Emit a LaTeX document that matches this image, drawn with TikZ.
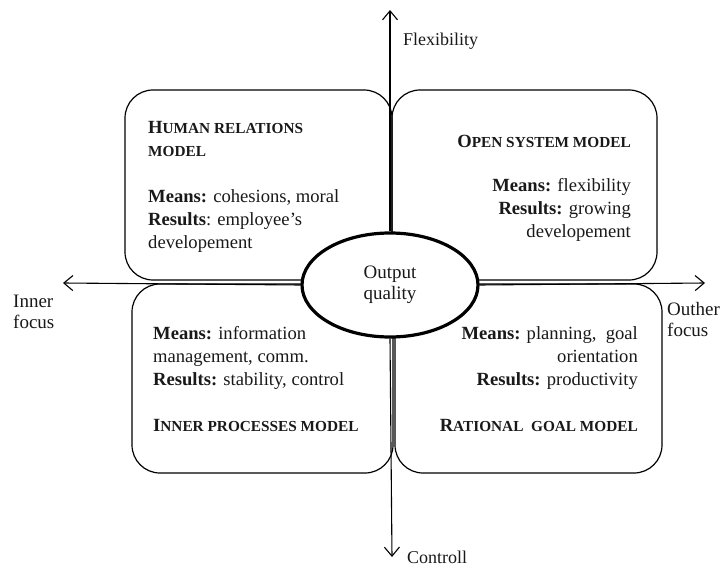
\documentclass[tikz,border=0pt]{standalone}
\usepackage{fontspec}
\setmainfont{Liberation Serif}
\usetikzlibrary{arrows.meta,shapes.geometric}
\newcommand\scz{\fontsize{15.3}{23}\selectfont}
\begin{document}
\begin{tikzpicture}[x=1pt,y=1pt,
  txt/.style={font=\fontsize{18.6}{23}\selectfont, inner sep=0pt, text=black!90},
  lab/.style={font=\fontsize{18}{22}\selectfont, inner sep=0pt, text=black!90},
  quad/.style={draw, line width=1.2pt, rounded corners=28pt, inner sep=0pt},
  axis/.style={line width=1.1pt, -{Straight Barb[length=9pt,width=15pt,line width=1.1pt]}}]
\useasboundingbox (0,0) rectangle (721,-567);
% boxes
\node[quad, minimum width=267pt, minimum height=190pt] (hr) at (258.5,-185) {};
\node[quad, minimum width=265pt, minimum height=190pt] (os) at (524.5,-185) {};
\node[quad, minimum width=261pt, minimum height=189pt] (ip) at (262.5,-378.5) {};
\node[quad, minimum width=267pt, minimum height=189pt] (rg) at (528.5,-378.5) {};
% centre
\node[ellipse, draw, line width=3.2pt, fill=white, minimum width=176pt, minimum height=104pt, inner sep=0pt,
      font=\fontsize{19}{21}\selectfont, text=black!90, align=center] (oq) at (390,-285) {Output\\quality};
% axis ends
\coordinate (top) at (390,-10);
\coordinate (bot) at (392,-557);
\coordinate (lft) at (63,-283);
\coordinate (rgt) at (705,-283);
\draw[axis] (oq.north) -- (top);
\draw[axis] (oq.south) -- (bot);
\draw[axis] (oq.west) -- (lft);
\draw[axis] (oq.east) -- (rgt);
% axis labels
\node[lab, anchor=base west] (flex) at (403,-46) {Flexibility};
\node[lab, anchor=base west] (ctrl) at (407,-563) {Controll};
\node[lab, font=\fontsize{19}{21}\selectfont, anchor=north west, align=left] (inner) at (13,-295) {Inner\\focus};
\node[lab, font=\fontsize{19}{21}\selectfont, anchor=north west, align=left] (outer) at (667,-302) {Outher\\focus};
% box texts
\node[txt, anchor=north west, align=left] (hrt) at (148,-121)
  {\textbf{H{\scz UMAN RELATIONS}}\\\textbf{\scz MODEL}\\[23pt]
   \textbf{Means:} cohesions, moral\\\textbf{Results}: employee’s\\developement};
\node[txt, anchor=north east, align=right] (ost) at (631,-135)
  {\textbf{O{\scz PEN SYSTEM MODEL}}\\[21pt]
   \textbf{Means:} flexibility\\\textbf{Results:} growing\\developement};
\node[txt, anchor=north west, align=left] (ipt) at (153,-326.5)
  {\textbf{Means:} information\\management, comm.\\\textbf{Results:} stability, control\\[23pt]
   \textbf{I{\scz NNER PROCESSES MODEL}}};
\node[txt, anchor=north east, align=right] (rgt2) at (638,-326.5)
  {\textbf{Means:} planning,\ \ goal\\orientation\\\textbf{Results:} productivity\\[23pt]
   \textbf{R{\scz ATIONAL\ \ GOAL MODEL}}};
\end{tikzpicture}
\end{document}
